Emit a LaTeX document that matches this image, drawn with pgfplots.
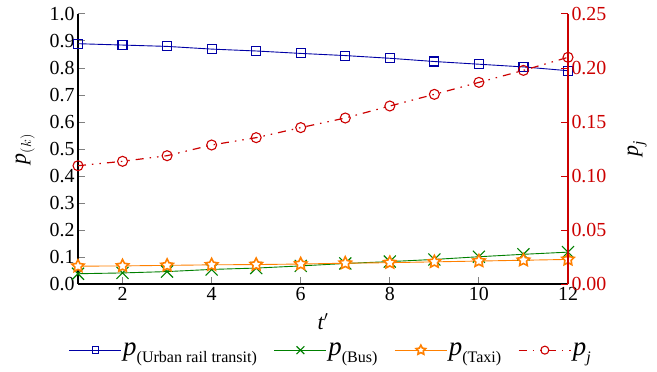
\documentclass[border=0pt]{standalone}
\usepackage{amsmath}
\usepackage{fontspec}
\setmainfont{Liberation Serif}
\usepackage{pgfplots}
\pgfplotsset{compat=1.18}
\definecolor{cRail}{RGB}{0,0,165}
\definecolor{cBus}{RGB}{0,128,0}
\definecolor{cTaxi}{RGB}{255,128,0}
\definecolor{cPj}{RGB}{204,0,0}
% outlined five-pointed star
\pgfdeclareplotmark{ostar}{%
  \pgfpathmoveto{\pgfpointpolar{90}{\pgfplotmarksize}}%
  \pgfpathlineto{\pgfpointpolar{126}{0.5\pgfplotmarksize}}%
  \pgfpathlineto{\pgfpointpolar{162}{\pgfplotmarksize}}%
  \pgfpathlineto{\pgfpointpolar{198}{0.5\pgfplotmarksize}}%
  \pgfpathlineto{\pgfpointpolar{234}{\pgfplotmarksize}}%
  \pgfpathlineto{\pgfpointpolar{270}{0.5\pgfplotmarksize}}%
  \pgfpathlineto{\pgfpointpolar{306}{\pgfplotmarksize}}%
  \pgfpathlineto{\pgfpointpolar{342}{0.5\pgfplotmarksize}}%
  \pgfpathlineto{\pgfpointpolar{18}{\pgfplotmarksize}}%
  \pgfpathlineto{\pgfpointpolar{54}{0.5\pgfplotmarksize}}%
  \pgfpathclose
  \pgfusepathqfillstroke}
\newcommand{\bigp}{\text{\fontsize{27}{29}\selectfont\itshape p}}
\pgfplotsset{
  railstyle/.style={cRail, line width=0.9pt, mark=square, mark options={solid, line width=1.1pt}},
  busstyle/.style={cBus, line width=0.9pt, mark=x, mark options={solid, line width=1.1pt}},
  taxistyle/.style={cTaxi, line width=0.9pt, mark=ostar, mark options={solid, line width=1.6pt, fill=white}},
  pjstyle/.style={cPj, line width=1.2pt, dash pattern=on 8bp off 6bp on 1.5bp off 6bp on 1.5bp off 6bp,
    mark=o, mark options={solid, line width=1.1pt}},
}
\begin{document}
\begin{tikzpicture}
\pgfplotsset{
  every axis/.append style={
    scale only axis, width=490bp, height=270bp,
    xmin=1, xmax=12,
    tick label style={font=\rmfamily\fontsize{20}{22}\selectfont},
    label style={font=\rmfamily\fontsize{22}{24}\selectfont},
    tick style={line width=1pt},
    major tick length=7bp,
    axis line style={line width=1.6pt},
  }
}
\begin{axis}[
  axis x line*=bottom, axis y line*=left,
  ymin=0, ymax=1,
  xtick={2,4,6,8,10,12},
  xticklabels={2,4,6,8,10,12},
  ytick={0,0.1,0.2,0.3,0.4,0.5,0.6,0.7,0.8,0.9,1.0},
  yticklabels={0.0,0.1,0.2,0.3,0.4,0.5,0.6,0.7,0.8,0.9,1.0},
  tick align=inside,
  xlabel={$\textit{t}'$},
  ylabel={$\textit{p}_{(k)}$},
  xlabel style={at={(axis description cs:0.5,-0.14)}, anchor=center},
  ylabel style={at={(axis description cs:-0.108,0.5)}, anchor=center},
  legend columns=4,
  legend style={draw=none, fill=none, at={(axis description cs:0.516,-0.245)}, anchor=center,
    font=\rmfamily\fontsize{23}{25}\selectfont,
    nodes={inner sep=1.5bp},
    /tikz/every even column/.append style={column sep=15bp}},
  legend image code/.code={
    \draw[#1] (0bp,0bp) -- (52bp,0bp);
    \draw[#1,mark repeat=2,mark phase=2]
      plot coordinates {(0bp,0bp) (26bp,0bp) (52bp,0bp)};
  },
]
\coordinate (bl) at (rel axis cs:0,0);
\coordinate (tr) at (rel axis cs:1,1);
\addplot[railstyle, mark size=4.5bp, forget plot]
  coordinates {(1,0.890) (2,0.885) (3,0.880) (4,0.870) (5,0.863) (6,0.854)
               (7,0.846) (8,0.836) (9,0.824) (10,0.814) (11,0.804) (12,0.790)};
\addplot[busstyle, mark size=8.5bp, forget plot]
  coordinates {(1,0.038) (2,0.041) (3,0.046) (4,0.054) (5,0.059) (6,0.067)
               (7,0.076) (8,0.083) (9,0.091) (10,0.101) (11,0.110) (12,0.118)};
\addplot[taxistyle, mark size=6.5bp, forget plot]
  coordinates {(1,0.066) (2,0.067) (3,0.069) (4,0.071) (5,0.072) (6,0.074)
               (7,0.077) (8,0.079) (9,0.082) (10,0.085) (11,0.088) (12,0.091)};
\addlegendimage{railstyle, mark size=3.2bp}
\addlegendentry{$\bigp_{\text{(Urban rail transit)}}$}
\addlegendimage{busstyle, mark size=5.5bp}
\addlegendentry{$\bigp_{\text{(Bus)}}$}
\addlegendimage{taxistyle, mark size=5bp}
\addlegendentry{$\bigp_{\text{(Taxi)}}$}
\addlegendimage{pjstyle, mark size=4bp}
\addlegendentry{$\bigp_{\textit{j}}$}
\end{axis}
\begin{axis}[
  axis x line=none, axis y line*=right,
  ymin=0, ymax=0.25,
  ytick={0,0.05,0.10,0.15,0.20,0.25},
  yticklabels={0.00,0.05,0.10,0.15,0.20,0.25},
  yticklabel style={cPj},
  y axis line style={cPj},
  ytick style={cPj, line width=1pt},
  tick align=inside,
  ylabel={$\textit{p}_{\textit{j}}$},
  ylabel style={at={(axis description cs:1.141,0.5)}, anchor=center},
]
\addplot[pjstyle, mark size=5bp]
  coordinates {(1,0.1095) (2,0.1136) (3,0.1188) (4,0.1287) (5,0.1355) (6,0.1448)
               (7,0.1537) (8,0.1648) (9,0.1756) (10,0.1867) (11,0.1978) (12,0.2099)};
\end{axis}
\pgfresetboundingbox
\path[use as bounding box] ([shift={(-78bp,-88bp)}]bl) rectangle ([shift={(89bp,14bp)}]tr);
\end{tikzpicture}
\end{document}
